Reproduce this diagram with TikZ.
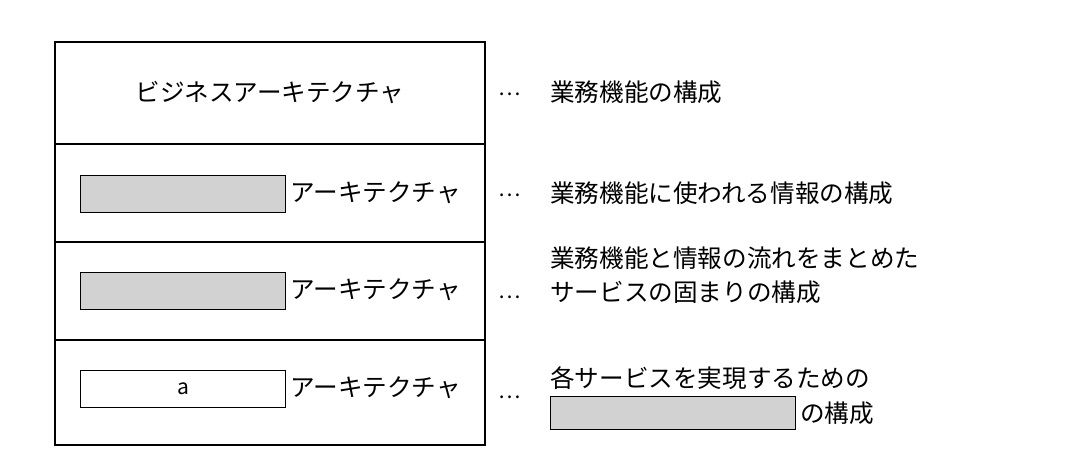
\documentclass[tikz,border=0pt]{standalone}
\usepackage{fontspec}
\setmainfont{Noto Sans CJK JP}
\begin{document}
\begin{tikzpicture}[x=0.02cm,y=-0.02cm,
  txt/.style={anchor=west,inner sep=0pt,font=\fontsize{14}{18}\selectfont},
  blank/.style={draw,line width=0.6pt,fill=gray!35,minimum width=205*0.02cm,minimum height=37*0.02cm,anchor=north west,inner sep=0pt},
  wbox/.style={blank,fill=white},
  dots/.style={anchor=center,font=\fontsize{12}{15}\selectfont}]
\useasboundingbox (0,0) rectangle (1080,470);
\draw[line width=0.8pt] (55,42) rectangle (485,445);
\draw[line width=0.8pt] (55,144) -- (485,144) (55,242) -- (485,242) (55,340) -- (485,340);
\node[anchor=center,font=\fontsize{14}{18}\selectfont] (r1) at (270,92) {ビジネスアーキテクチャ};
\node[blank] (b2) at (80,175) {};
\node[txt] (t2) at (290,193) {アーキテクチャ};
\node[blank] (b3) at (80,272) {};
\node[txt] (t3) at (290,290) {アーキテクチャ};
\node[wbox] (b4) at (80,370) {\fontsize{12}{15}\selectfont a};
\node[txt] (t4) at (290,388) {アーキテクチャ};
\node[dots] (d1) at (510,94) {…};
\node[dots] (d2) at (510,195) {…};
\node[dots] (d3) at (510,297) {…};
\node[dots] (d4) at (510,397) {…};
\node[txt] (e1) at (550,92) {業務機能の構成};
\node[txt] (e2) at (550,193) {業務機能に使われる情報の構成};
\node[txt] (e3a) at (550,258) {業務機能と情報の流れをまとめた};
\node[txt] (e3b) at (550,292) {サービスの固まりの構成};
\node[txt] (e4a) at (550,378) {各サービスを実現するための};
\node[blank,minimum width=245*0.02cm,minimum height=33*0.02cm] (b5) at (550,396) {};
\node[txt] (e4b) at (800,413) {の構成};
\end{tikzpicture}
\end{document}
